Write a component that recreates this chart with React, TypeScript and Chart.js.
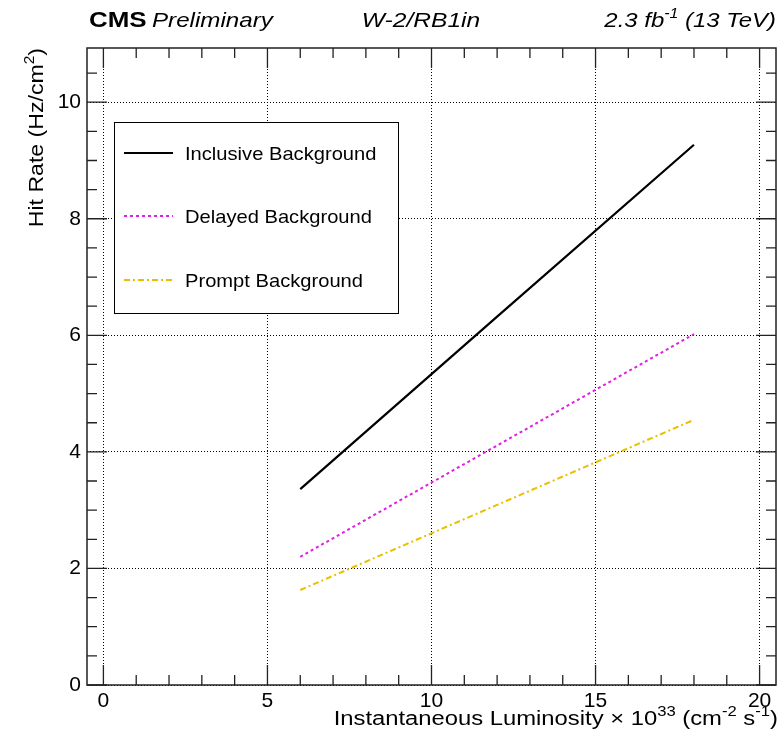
import React, { useEffect, useRef } from "react";
import { Chart, registerables } from "chart.js";

Chart.register(...registerables);

// ---- data ----
const luminosity = [6, 12, 18];
const inclusiveBkg = [3.36, 6.32, 9.27];
const delayedBkg = [2.2, 4.11, 6.02];
const promptBkg = [1.63, 3.09, 4.55];
const seriesLabels = ["Inclusive Background", "Delayed Background", "Prompt Background"];
const xMajorTicks = [0, 5, 10, 15, 20];
const yMajorTicks = [0, 2, 4, 6, 8, 10];

const FONT = '"Liberation Sans", Arial, Helvetica, sans-serif';
const W = 784;
const H = 739;

type Seg = { t: string; sup?: boolean };

function drawRich(
  ctx: CanvasRenderingContext2D,
  segs: Seg[],
  x: number,
  y: number,
  size: number,
  align: "left" | "right" | "center",
  style = "",
  sx = 1
) {
  const supSize = Math.round(size * 0.68);
  const widths = segs.map((s) => {
    ctx.font = `${style} ${s.sup ? supSize : size}px ${FONT}`;
    return ctx.measureText(s.t).width;
  });
  const total = widths.reduce((a, b) => a + b, 0);
  ctx.save();
  ctx.translate(x, y);
  ctx.scale(sx, 1);
  let cx = align === "left" ? 0 : align === "right" ? -total : -total / 2;
  ctx.textAlign = "left";
  ctx.textBaseline = "alphabetic";
  segs.forEach((s, i) => {
    ctx.font = `${style} ${s.sup ? supSize : size}px ${FONT}`;
    ctx.fillText(s.t, cx, s.sup ? -size * 0.45 : 0);
    cx += widths[i];
  });
  ctx.restore();
}

const decorPlugin = {
  id: "decor",
  afterDraw(chart: any) {
    const ctx: CanvasRenderingContext2D = chart.ctx;
    const { left, right, top, bottom } = chart.chartArea;
    const xs = chart.scales.x;
    const ys = chart.scales.y;
    ctx.save();
    ctx.setLineDash([]);
    ctx.strokeStyle = "#222";
    ctx.lineWidth = 1.5;
    // frame
    ctx.strokeRect(left, top, right - left, bottom - top);
    // x ticks
    ctx.lineWidth = 1.3;
    for (let v = 0; v <= 20; v += 1) {
      const px = xs.getPixelForValue(v);
      const len = v % 5 === 0 ? 20 : 10;
      ctx.beginPath();
      ctx.moveTo(px, bottom);
      ctx.lineTo(px, bottom - len);
      ctx.moveTo(px, top);
      ctx.lineTo(px, top + len);
      ctx.stroke();
    }
    for (let v = 0; v <= 10.75; v += 0.5) {
      const py = ys.getPixelForValue(v);
      const len = Math.abs(v % 2) < 1e-6 ? 20 : 10;
      ctx.beginPath();
      ctx.moveTo(left, py);
      ctx.lineTo(left + len, py);
      ctx.moveTo(right, py);
      ctx.lineTo(right - len, py);
      ctx.stroke();
    }

    // header
    ctx.fillStyle = "#000";
    drawRich(ctx, [{ t: "CMS" }], 89, 27, 22, "left", "bold", 1.18);
    drawRich(ctx, [{ t: "Preliminary" }], 152, 27, 21, "left", "italic", 1.15);
    drawRich(ctx, [{ t: "W-2/RB1in" }], 421, 27, 21, "center", "italic", 1.17);
    drawRich(
      ctx,
      [{ t: "2.3 fb" }, { t: "-1", sup: true }, { t: " (13 TeV)" }],
      776,
      27,
      21,
      "right",
      "italic",
      1.14
    );

    // x title
    drawRich(
      ctx,
      [
        { t: "Instantaneous Luminosity \u00d7 10" },
        { t: "33", sup: true },
        { t: " (cm" },
        { t: "-2", sup: true },
        { t: " s" },
        { t: "-1", sup: true },
        { t: ")" },
      ],
      778,
      725,
      20,
      "right",
      "",
      1.19
    );

    // y title
    ctx.save();
    ctx.translate(43, 48);
    ctx.rotate(-Math.PI / 2);
    drawRich(ctx, [{ t: "Hit Rate (Hz/cm" }, { t: "2", sup: true }, { t: ")" }], 0, 0, 21, "right", "", 1.1);
    ctx.restore();

    // legend
    const lx = 114,
      ly = 122,
      lw = 284,
      lh = 191;
    ctx.fillStyle = "#fff";
    ctx.fillRect(lx, ly, lw, lh);
    ctx.strokeStyle = "#000";
    ctx.lineWidth = 1;
    ctx.strokeRect(lx + 0.5, ly + 0.5, lw, lh);
    const rowY = [153, 216, 280];
    chart.data.datasets.forEach((ds: any, i: number) => {
      const y = rowY[i];
      ctx.save();
      ctx.strokeStyle = ds.borderColor;
      ctx.lineWidth = ds.borderWidth;
      ctx.setLineDash(ds.borderDash || []);
      ctx.beginPath();
      ctx.moveTo(124, y);
      ctx.lineTo(173, y);
      ctx.stroke();
      ctx.restore();
      ctx.fillStyle = "#000";
      drawRich(ctx, [{ t: ds.label }], 185, y + 7, 19, "left", "", 1.06);
    });
    ctx.restore();
  },
};

export default function App() {
  const ref = useRef<HTMLCanvasElement>(null);
  useEffect(() => {
    if (!ref.current) return;
    const mk = (ys: number[]) => luminosity.map((x, i) => ({ x, y: ys[i] }));
    const chart = new Chart(ref.current, {
      type: "line",
      data: {
        datasets: [
          {
            label: seriesLabels[0],
            data: mk(inclusiveBkg),
            borderColor: "#000000",
            borderWidth: 2.2,
            pointRadius: 0,
            fill: false,
          },
          {
            label: seriesLabels[1],
            data: mk(delayedBkg),
            borderColor: "#e020e0",
            borderWidth: 2,
            borderDash: [3, 3],
            pointRadius: 0,
            fill: false,
          },
          {
            label: seriesLabels[2],
            data: mk(promptBkg),
            borderColor: "#e8c000",
            borderWidth: 2,
            borderDash: [6, 3, 2, 3],
            pointRadius: 0,
            fill: false,
          },
        ],
      },
      options: {
        animation: false,
        responsive: false,
        maintainAspectRatio: false,
        layout: { padding: { top: 48, right: 8, left: 0, bottom: 0 } },
        plugins: { legend: { display: false }, tooltip: { enabled: false }, title: { display: false } },
        scales: {
          x: {
            type: "linear",
            min: -0.5,
            max: 20.5,
            afterBuildTicks: (s: any) => {
              s.ticks = xMajorTicks.map((v) => ({ value: v }));
            },
            afterFit: (s: any) => {
              s.height = 54;
            },
            ticks: {
              font: { family: FONT, size: 21 },
              color: "#000",
              padding: 4,
              maxRotation: 0,
              callback: (v: any) => String(v),
            },
            grid: { color: "#000", lineWidth: 1, drawTicks: false },
            border: { display: false, dash: [1, 2] },
          },
          y: {
            type: "linear",
            min: 0,
            max: 10.93,
            afterBuildTicks: (s: any) => {
              s.ticks = yMajorTicks.map((v) => ({ value: v }));
            },
            afterFit: (s: any) => {
              s.width = 87;
            },
            ticks: {
              font: { family: FONT, size: 21 },
              color: "#000",
              padding: 6,
              callback: (v: any) => String(v),
            },
            grid: { color: "#000", lineWidth: 1, drawTicks: false },
            border: { display: false, dash: [1, 2] },
          },
        },
      },
      plugins: [decorPlugin],
    } as any);
    return () => chart.destroy();
  }, []);
  return (
    <div style={{ position: "absolute", left: 0, top: 0, width: W, height: H, background: "#fff" }}>
      <canvas ref={ref} width={W} height={H} style={{ display: "block" }} />
    </div>
  );
}
